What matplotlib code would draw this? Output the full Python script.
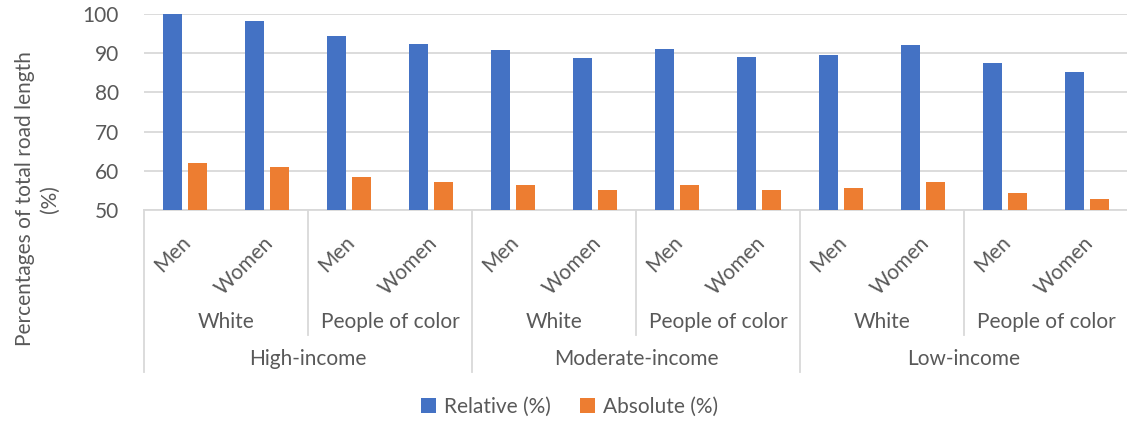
import matplotlib
matplotlib.use("Agg")
import matplotlib.pyplot as plt
import numpy as np

plt.rcParams['font.family'] = ['Lato', 'DejaVu Sans']

income = ['High-income', 'Moderate-income', 'Low-income']
race = ['White', 'People of color']
gender = ['Men', 'Women']

relative = [100.0, 98.2, 94.4, 92.3, 90.8, 88.8, 91.1, 89.0, 89.5, 92.1, 87.5, 85.2]
absolute = [62.0, 61.0, 58.4, 57.1, 56.4, 55.1, 56.4, 55.1, 55.6, 57.1, 54.3, 52.8]

BLUE = '#4472c4'
ORANGE = '#ed7d31'
TEXT = '#595959'
GRID = '#d9d9d9'
FS = 15

fig = plt.figure(figsize=(11.27, 4.22), dpi=100)
ax = fig.add_axes([144 / 1127, 1 - 210 / 422, 984 / 1127, 196 / 422])

x = np.arange(len(relative))
w = 0.235
ax.bar(x - 0.148, relative, w, color=BLUE, label='Relative (%)', zorder=3)
ax.bar(x + 0.148, absolute, w, color=ORANGE, label='Absolute (%)', zorder=3)

ax.set_ylim(50, 100)
ax.set_xlim(-0.5, len(relative) - 0.5)
ax.set_yticks(range(50, 101, 10))
ax.yaxis.grid(True, color=GRID, linewidth=1.3, zorder=0)
ax.tick_params(axis='y', length=0, pad=18, labelsize=FS, labelcolor=TEXT)
ax.set_xticks([])
for side in ['top', 'right', 'left']:
    ax.spines[side].set_visible(False)
ax.spines['bottom'].set_color(GRID)
ax.spines['bottom'].set_linewidth(1.3)

tr = ax.get_xaxis_transform()

# gender labels, rotated
for i in x:
    ax.text(i + 0.12, -0.115, gender[i % 2], transform=tr, rotation=45,
            ha='right', va='top', fontsize=FS, color=TEXT)

# race labels and separators
for j in range(len(income) * len(race)):
    ax.text(2 * j + 0.5, -0.57, race[j % 2], transform=tr, ha='center',
            va='center', fontsize=FS, color=TEXT)
for k in range(len(income) * len(race) + 1):
    deep = k % 2 == 0
    ax.plot([2 * k - 0.5] * 2, [0, -0.827 if deep else -0.638], transform=tr,
            color=GRID, linewidth=1.3, clip_on=False)

# income labels
for m, name in enumerate(income):
    ax.text(4 * m + 1.5, -0.76, name, transform=tr, ha='center',
            va='center', fontsize=FS, color=TEXT)

fig.text(37 / 1127, 1 - 199 / 422, 'Percentages of total road length\n(%)',
         rotation=90, ha='center', va='center', fontsize=FS, color=TEXT,
         linespacing=1.3, multialignment='center')

fig.legend(loc='center', bbox_to_anchor=(0.505, 1 - 407 / 422), ncol=2,
           frameon=False, fontsize=FS, labelcolor=TEXT, handlelength=0.75,
           handleheight=0.75, handletextpad=0.35, columnspacing=1.4)

fig.savefig('out.png', dpi=100)
